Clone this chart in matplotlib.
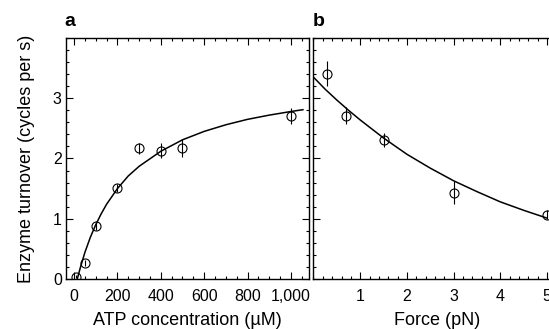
import matplotlib
matplotlib.use('Agg')
import matplotlib.pyplot as plt
from matplotlib.ticker import MultipleLocator, FuncFormatter

plt.rcParams['font.family'] = ['Liberation Sans', 'DejaVu Sans']

# panel a: turnover vs ATP concentration
atp = [10, 50, 100, 200, 300, 400, 500, 1000]
rate_atp = [0.04, 0.26, 0.88, 1.51, 2.17, 2.13, 2.17, 2.70]
err_atp = [0.03, 0.05, 0.07, 0.07, 0.09, 0.12, 0.15, 0.13]
fit_atp_x = [15, 30, 50, 75, 100, 125, 150, 200, 250, 300, 400, 500, 600, 700, 800, 900, 1000, 1055]
fit_atp_y = [0.0, 0.20, 0.44, 0.69, 0.90, 1.08, 1.24, 1.50, 1.71, 1.87, 2.12, 2.31, 2.45, 2.56, 2.65, 2.72, 2.78, 2.81]

# panel b: turnover vs force
force = [0.3, 0.7, 1.5, 3.0, 5.0]
rate_force = [3.41, 2.71, 2.31, 1.43, 1.07]
err_force = [0.20, 0.14, 0.12, 0.19, 0.08]
fit_f_x = [0.0, 0.25, 0.5, 0.75, 1.0, 1.5, 2.0, 2.5, 3.0, 3.5, 4.0, 4.5, 5.0]
fit_f_y = [3.35, 3.15, 2.97, 2.80, 2.64, 2.34, 2.07, 1.84, 1.63, 1.45, 1.28, 1.14, 1.01]

fig = plt.figure(figsize=(5.49, 3.29), dpi=100)
ax1 = fig.add_axes([0.1202, 0.152, 0.4426, 0.7325])
ax2 = fig.add_axes([0.571, 0.152, 0.451, 0.7325])

def style(ax):
    ax.tick_params(which='both', direction='in', top=True, right=True, width=0.8, labelsize=11.5)
    ax.tick_params(which='major', length=5)
    ax.tick_params(which='minor', length=2.5)
    ax.yaxis.set_major_locator(MultipleLocator(1))
    ax.yaxis.set_minor_locator(MultipleLocator(0.2))
    ax.set_ylim(0, 4)
    for s in ax.spines.values():
        s.set_linewidth(1.0)

ax1.errorbar(atp, rate_atp, yerr=err_atp, fmt='o', mfc='none', mec='black', ecolor='black',
             ms=6.5, mew=0.8, elinewidth=0.8, capsize=0)
ax1.plot(fit_atp_x, fit_atp_y, color='black', lw=1.1)
style(ax1)
ax1.set_xlim(-37, 1083)
ax1.xaxis.set_major_locator(MultipleLocator(200))
ax1.xaxis.set_minor_locator(MultipleLocator(50))
ax1.xaxis.set_major_formatter(FuncFormatter(lambda v, p: '{:,}'.format(int(v))))
ax1.set_yticks([0, 1, 2, 3])
ax1.tick_params(axis='y', pad=3)
ax1.tick_params(axis='x', pad=7)
ax1.set_xlabel(u'ATP concentration (\u00b5M)', fontsize=13, labelpad=6)
ax1.set_ylabel('Enzyme turnover (cycles per s)', fontsize=13, labelpad=13)
ax1.text(-0.005, 1.035, 'a', transform=ax1.transAxes, fontsize=14, fontweight='heavy', va='bottom')

ax2.errorbar(force, rate_force, yerr=err_force, fmt='o', mfc='none', mec='black', ecolor='black',
             ms=6.5, mew=0.8, elinewidth=0.8, capsize=0, clip_on=False)
ax2.plot(fit_f_x, fit_f_y, color='black', lw=1.1)
style(ax2)
ax2.set_xlim(0, 5.3)
ax2.xaxis.set_major_locator(MultipleLocator(1))
ax2.xaxis.set_minor_locator(MultipleLocator(0.2))
ax2.set_xticks([1, 2, 3, 4, 5])
ax2.set_yticks([0, 1, 2, 3])
ax2.set_yticklabels([])
ax2.tick_params(axis='x', pad=7)
ax2.set_xlabel('Force (pN)', fontsize=13, labelpad=6)
ax2.text(-0.005, 1.035, 'b', transform=ax2.transAxes, fontsize=14, fontweight='heavy', va='bottom')

fig.savefig('out.png', dpi=100)
